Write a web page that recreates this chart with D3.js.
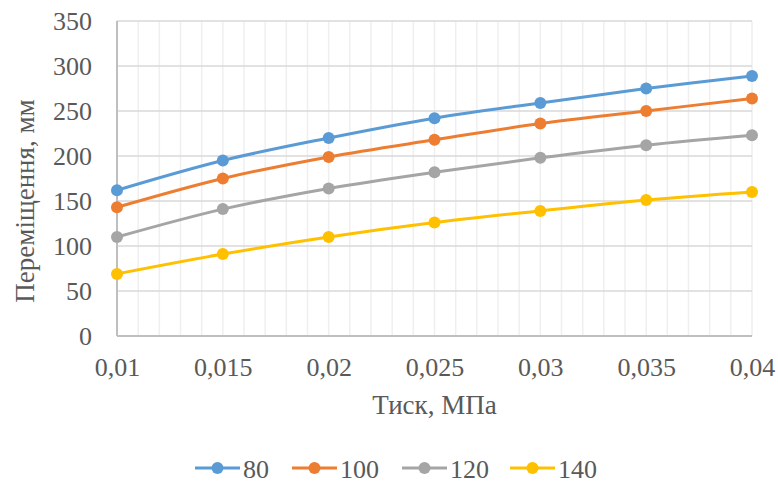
<!DOCTYPE html>
<html>
<head>
<meta charset="utf-8">
<script src="https://cdn.jsdelivr.net/npm/d3@7"></script>
<style>
  html, body { margin: 0; padding: 0; background: #fff; }
  svg { display: block; font-family: "Liberation Serif", "Times New Roman", serif; }
</style>
</head>
<body>
<svg id="chart" width="778" height="486"></svg>
<script>
// Pressure values, МПа
const pressure = [0.01, 0.015, 0.02, 0.025, 0.03, 0.035, 0.04];
// Displacement, мм, for each series
const s80  = [162, 195, 220, 242, 259, 275, 289];
const s100 = [143, 175, 199, 218, 236, 250, 264];
const s120 = [110, 141, 164, 182, 198, 212, 223];
const s140 = [69, 91, 110, 126, 139, 151, 160];
const seriesNames = ["80", "100", "120", "140"];
const seriesColors = ["#5b9bd5", "#ed7d31", "#a5a5a5", "#ffc000"];
const xTickLabels = ["0,01", "0,015", "0,02", "0,025", "0,03", "0,035", "0,04"];
const yTicks = [0, 50, 100, 150, 200, 250, 300, 350];

const seriesValues = [s80, s100, s120, s140];

const svg = d3.select("#chart");
const margin = { left: 117, right: 26, top: 21, bottom: 150 };
const W = 778, H = 486;
const fontSize = "26px";
const titleSize = "27px";

const x = d3.scaleLinear().domain([0.01, 0.04]).range([margin.left, W - margin.right]);
const y = d3.scaleLinear().domain([0, 350]).range([H - margin.bottom, margin.top]);

const textColor = "#595959";

// minor vertical gridlines every 0.001
const minor = d3.range(11, 41).map(d => d / 1000);
svg.append("g")
  .selectAll("line")
  .data(minor)
  .join("line")
  .attr("x1", d => x(d)).attr("x2", d => x(d))
  .attr("y1", y(0)).attr("y2", y(350))
  .attr("stroke", "#efefef")
  .attr("stroke-width", 1.5);

// horizontal gridlines
svg.append("g")
  .selectAll("line")
  .data(yTicks.slice(1))
  .join("line")
  .attr("x1", x(0.01)).attr("x2", x(0.04))
  .attr("y1", d => y(d)).attr("y2", d => y(d))
  .attr("stroke", "#d9d9d9")
  .attr("stroke-width", 1.5);

// axis lines
svg.append("line")
  .attr("x1", x(0.01)).attr("x2", x(0.01))
  .attr("y1", y(0)).attr("y2", y(350))
  .attr("stroke", "#bfbfbf").attr("stroke-width", 2);
svg.append("line")
  .attr("x1", x(0.01)).attr("x2", x(0.04))
  .attr("y1", y(0)).attr("y2", y(0))
  .attr("stroke", "#bfbfbf").attr("stroke-width", 2);

// y tick labels
const yAxis = d3.axisLeft(y).tickValues(yTicks).tickSize(0).tickPadding(25).tickFormat(d3.format("d"));
const gy = svg.append("g").attr("transform", `translate(${x(0.01)},0)`).call(yAxis);
gy.select(".domain").remove();
gy.selectAll("text").attr("fill", textColor).style("font-size", fontSize)
  .style("font-family", "Liberation Serif, serif");

// x tick labels
const xAxis = d3.axisBottom(x).tickValues(pressure).tickSize(0).tickPadding(22)
  .tickFormat((d, i) => xTickLabels[i]);
const gx = svg.append("g").attr("transform", `translate(0,${y(0)})`).call(xAxis);
gx.select(".domain").remove();
gx.selectAll("text").attr("fill", textColor).style("font-size", fontSize)
  .style("font-family", "Liberation Serif, serif");

// axis titles
svg.append("text")
  .attr("x", (x(0.01) + x(0.04)) / 2).attr("y", 414)
  .attr("text-anchor", "middle").attr("fill", textColor)
  .style("font-size", titleSize).text("Тиск, МПа");
svg.append("text")
  .attr("transform", "translate(34,201) rotate(-90)")
  .attr("text-anchor", "middle").attr("fill", textColor)
  .style("font-size", titleSize).text("Переміщення, мм");

// series lines and markers
const line = d3.line()
  .x((d, i) => x(pressure[i]))
  .y(d => y(d))
  .curve(d3.curveCatmullRom.alpha(0));

seriesValues.forEach((vals, k) => {
  const g = svg.append("g");
  g.append("path")
    .datum(vals)
    .attr("d", line)
    .attr("fill", "none")
    .attr("stroke", seriesColors[k])
    .attr("stroke-width", 3)
    .attr("stroke-linecap", "round");
  g.selectAll("circle")
    .data(vals)
    .join("circle")
    .attr("cx", (d, i) => x(pressure[i]))
    .attr("cy", d => y(d))
    .attr("r", 6)
    .attr("fill", seriesColors[k]);
});

// legend
const legendX = [195, 292, 402, 510];
const legendY = 468;
const lg = svg.append("g");
seriesNames.forEach((name, k) => {
  const g = lg.append("g").attr("transform", `translate(${legendX[k]},${legendY})`);
  g.append("line").attr("x1", 0).attr("x2", 45).attr("y1", 0).attr("y2", 0)
    .attr("stroke", seriesColors[k]).attr("stroke-width", 3);
  g.append("circle").attr("cx", 22.5).attr("cy", 0).attr("r", 6).attr("fill", seriesColors[k]);
  g.append("text").attr("x", 48).attr("y", 10)
    .attr("fill", textColor).style("font-size", fontSize).text(name);
});
</script>
</body>
</html>
